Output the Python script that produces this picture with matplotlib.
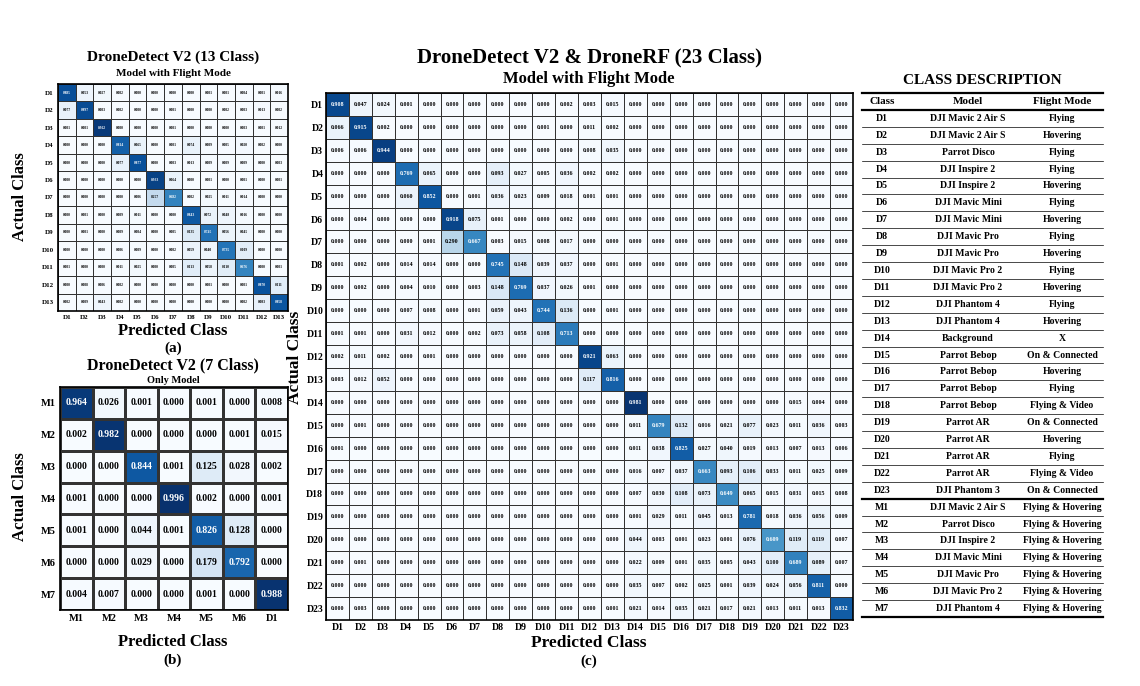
import matplotlib
matplotlib.use("Agg")
import matplotlib.pyplot as plt
import numpy as np

plt.rcParams["font.family"] = ["Liberation Serif", "DejaVu Serif"]
plt.rcParams["font.weight"] = "bold"

# ---- data ---------------------------------------------------------------
labels13 = [f"D{i}" for i in range(1, 14)]
cm13 = [
    [.885, .053, .027, .002, 0, 0, 0, 0, .001, .001, .004, .001, .016],
    [.077, .897, .003, .002, 0, 0, .001, 0, 0, .002, .003, .013, .002],
    [.001, .001, .962, 0, 0, 0, .001, 0, 0, 0, .003, .001, .012],
    [0, 0, 0, .814, .065, 0, .001, .074, .009, .005, .020, .002, 0],
    [0, 0, 0, .077, .877, 0, .003, .013, .009, .009, .009, 0, .003],
    [0, 0, 0, 0, 0, .933, .064, 0, .001, 0, .001, 0, .001],
    [0, 0, 0, 0, .006, .257, .682, .002, .025, .011, .014, 0, 0],
    [0, .001, 0, .009, .011, 0, 0, .843, .072, .048, .016, 0, 0],
    [0, .001, 0, .009, .004, 0, .005, .135, .745, .056, .045, 0, 0],
    [0, 0, 0, .006, .009, 0, .002, .059, .040, .735, .109, 0, 0],
    [.001, 0, 0, .011, .025, 0, .005, .113, .058, .110, .676, 0, .001],
    [0, .008, .006, .002, 0, 0, 0, 0, .001, 0, .001, .870, .111],
    [.002, .009, .043, .002, 0, 0, 0, 0, 0, 0, .002, .083, .858],
]

rows7 = ["M1", "M2", "M3", "M4", "M5", "M6", "M7"]
cols7 = ["M1", "M2", "M3", "M4", "M5", "M6", "D1"]
cm7 = [
    [.964, .026, .001, 0, .001, 0, .008],
    [.002, .982, 0, 0, 0, .001, .015],
    [0, 0, .844, .001, .125, .028, .002],
    [.001, 0, 0, .996, .002, 0, .001],
    [.001, 0, .044, .001, .826, .128, 0],
    [0, 0, .029, 0, .179, .792, 0],
    [.004, .007, 0, 0, .001, 0, .988],
]

labels23 = [f"D{i}" for i in range(1, 24)]
Z10 = [0] * 10
cm23 = [
    [.908, .047, .024, .001, 0, 0, 0, 0, 0, 0, .002, .003, .015] + Z10,
    [.066, .915, .002, 0, 0, 0, 0, 0, 0, .001, 0, .011, .002] + Z10,
    [.006, .006, .944, 0, 0, 0, 0, 0, 0, 0, 0, .008, .035] + Z10,
    [0, 0, 0, .769, .065, 0, 0, .093, .027, .005, .036, .002, .002] + Z10,
    [0, 0, 0, .060, .852, 0, .001, .036, .023, .009, .018, .001, .001] + Z10,
    [0, .004, 0, 0, 0, .918, .075, .001, 0, 0, .002, 0, .001] + Z10,
    [0, 0, 0, 0, .001, .290, .667, .003, .015, .008, .017, 0, 0] + Z10,
    [.001, .002, 0, .014, .014, 0, 0, .745, .148, .039, .037, 0, .001] + Z10,
    [0, .002, 0, .004, .010, 0, .003, .148, .769, .037, .026, .001, 0] + Z10,
    [0, 0, 0, .007, .008, 0, .001, .059, .043, .744, .136, 0, .001] + Z10,
    [.001, .001, 0, .031, .012, 0, .002, .073, .058, .108, .713, 0, 0] + Z10,
    [.002, .011, .002, 0, .001, 0, 0, 0, 0, 0, 0, .921, .063] + Z10,
    [.003, .012, .052] + [0] * 8 + [.117, .816] + Z10,
    [0] * 13 + [.981, 0, 0, 0, 0, 0, 0, .015, .004, 0],
    [0, .001] + [0] * 11 + [.011, .679, .132, .016, .021, .077, .023, .011, .036, .003],
    [.001] + [0] * 12 + [.011, .038, .825, .027, .040, .019, .013, .007, .013, .006],
    [0] * 13 + [.016, .007, .037, .663, .093, .106, .033, .011, .025, .009],
    [0] * 13 + [.007, .030, .108, .073, .649, .065, .015, .031, .015, .008],
    [0] * 13 + [.001, .029, .011, .045, .013, .781, .018, .036, .056, .009],
    [0] * 13 + [.044, .003, .001, .023, .001, .076, .609, .119, .119, .007],
    [0, .001] + [0] * 11 + [.022, .009, .001, .035, .005, .043, .100, .689, .089, .007],
    [0] * 13 + [.035, .007, .002, .025, .001, .039, .024, .056, .811, 0],
    [0, .003] + [0] * 10 + [.001, .021, .014, .035, .021, .017, .021, .013, .011, .013, .832],
]

tab_class = labels23 + rows7
tab_model = ["DJI Mavic 2 Air S", "DJI Mavic 2 Air S", "Parrot Disco", "DJI Inspire 2",
             "DJI Inspire 2", "DJI Mavic Mini", "DJI Mavic Mini", "DJI Mavic Pro",
             "DJI Mavic Pro", "DJI Mavic Pro 2", "DJI Mavic Pro 2", "DJI Phantom 4",
             "DJI Phantom 4", "Background", "Parrot Bebop", "Parrot Bebop", "Parrot Bebop",
             "Parrot Bebop", "Parrot AR", "Parrot AR", "Parrot AR", "Parrot AR",
             "DJI Phantom 3", "DJI Mavic 2 Air S", "Parrot Disco", "DJI Inspire 2",
             "DJI Mavic Mini", "DJI Mavic Pro", "DJI Mavic Pro 2", "DJI Phantom 4"]
tab_mode = ["Flying", "Hovering", "Flying", "Flying", "Hovering", "Flying", "Hovering",
            "Flying", "Hovering", "Flying", "Hovering", "Flying", "Hovering", "X",
            "On & Connected", "Hovering", "Flying", "Flying & Video", "On & Connected",
            "Hovering", "Flying", "Flying & Video", "On & Connected"] + ["Flying & Hovering"] * 7

W, H = 1140, 686
fig = plt.figure(figsize=(W / 100, H / 100), dpi=100)


def box(x0, y0, x1, y1):
    return [x0 / W, 1 - y1 / H, (x1 - x0) / W, (y1 - y0) / H]


def conf(rect, cm, rlab, clab, fs_cell, fs_tick, lw, pad=3):
    a = fig.add_axes(rect)
    m = np.array(cm, dtype=float)
    n, k = m.shape
    a.pcolormesh(np.arange(k + 1), np.arange(n + 1), m, cmap="Blues", vmin=0, vmax=1,
                 edgecolors="#333333", linewidth=lw)
    a.set_xlim(0, k); a.set_ylim(n, 0)
    for i in range(n):
        for j in range(k):
            v = m[i, j]
            a.text(j + 0.5, i + 0.5, f"{v:.3f}", ha="center", va="center",
                   fontsize=fs_cell, fontweight="bold",
                   color="white" if v > 0.5 else "black")
    a.set_xticks(np.arange(k) + 0.5); a.set_xticklabels(clab, fontsize=fs_tick)
    a.set_yticks(np.arange(n) + 0.5); a.set_yticklabels(rlab, fontsize=fs_tick)
    a.tick_params(length=0, pad=pad)
    for s in a.spines.values():
        s.set_linewidth(1.2)
    return a


# (a) 13 class
a1 = conf(box(58, 84, 288, 311), cm13, labels13, labels13, 2.6, 5, 0.7)
fig.text(173 / W, 1 - 57 / H, "DroneDetect V2 (13 Class)", ha="center", va="center", fontsize=11, fontweight="bold")
fig.text(173 / W, 1 - 73 / H, "Model with Flight Mode", ha="center", va="center", fontsize=8, fontweight="bold")
fig.text(173 / W, 1 - 331 / H, "Predicted Class", ha="center", va="center", fontsize=12, fontweight="bold")
fig.text(173 / W, 1 - 348 / H, "(a)", ha="center", va="center", fontsize=11, fontweight="bold")
fig.text(20 / W, 1 - 197 / H, "Actual Class", ha="center", va="center", rotation=90, fontsize=12, fontweight="bold")

# (b) 7 class
a2 = conf(box(60, 387, 288, 610), cm7, rows7, cols7, 7, 7.5, 0.9)
fig.text(173 / W, 1 - 365 / H, "DroneDetect V2 (7 Class)", ha="center", va="center", fontsize=11.5, fontweight="bold")
fig.text(173 / W, 1 - 380 / H, "Only Model", ha="center", va="center", fontsize=7.5, fontweight="bold")
fig.text(173 / W, 1 - 642 / H, "Predicted Class", ha="center", va="center", fontsize=12, fontweight="bold")
fig.text(173 / W, 1 - 660 / H, "(b)", ha="center", va="center", fontsize=11, fontweight="bold")
fig.text(20 / W, 1 - 497 / H, "Actual Class", ha="center", va="center", rotation=90, fontsize=12, fontweight="bold")

# (c) 23 class
a3 = conf(box(326, 93, 853, 620), cm23, labels23, labels23, 4.3, 7, 0.6, pad=2)
fig.text(589 / W, 1 - 57 / H, "DroneDetect V2 & DroneRF (23 Class)", ha="center", va="center", fontsize=15, fontweight="bold")
fig.text(589 / W, 1 - 79 / H, "Model with Flight Mode", ha="center", va="center", fontsize=12, fontweight="bold")
fig.text(589 / W, 1 - 643 / H, "Predicted Class", ha="center", va="center", fontsize=12.5, fontweight="bold")
fig.text(589 / W, 1 - 661 / H, "(c)", ha="center", va="center", fontsize=11, fontweight="bold")
fig.text(295 / W, 1 - 357 / H, "Actual Class", ha="center", va="center", rotation=90, fontsize=12.5, fontweight="bold")

# class description table
t = fig.add_axes(box(862, 93, 1103, 617))
t.set_xlim(862, 1103); t.set_ylim(617, 93); t.axis("off")
nrow = len(tab_class) + 1
rh = (617 - 93) / nrow
fig.text(982 / W, 1 - 81 / H, "CLASS DESCRIPTION", ha="center", va="center", fontsize=11, fontweight="bold")
xs = [882, 968, 1062]
for j, h in enumerate(["Class", "Model", "Flight Mode"]):
    t.text(xs[j], 93 + rh / 2, h, ha="center", va="center", fontsize=8, fontweight="bold")
for i in range(len(tab_class)):
    y = 93 + rh * (i + 1.5)
    for j, s in enumerate([tab_class[i], tab_model[i], tab_mode[i]]):
        t.text(xs[j], y, s, ha="center", va="center", fontsize=7, fontweight="bold")
for i in range(nrow + 1):
    y = 93 + rh * i
    lw = 1.6 if i in (0, 1, 24, nrow) else 0.5
    t.plot([862, 1103], [y, y], color="black", lw=lw, clip_on=False)

fig.savefig("out.png", dpi=100)
